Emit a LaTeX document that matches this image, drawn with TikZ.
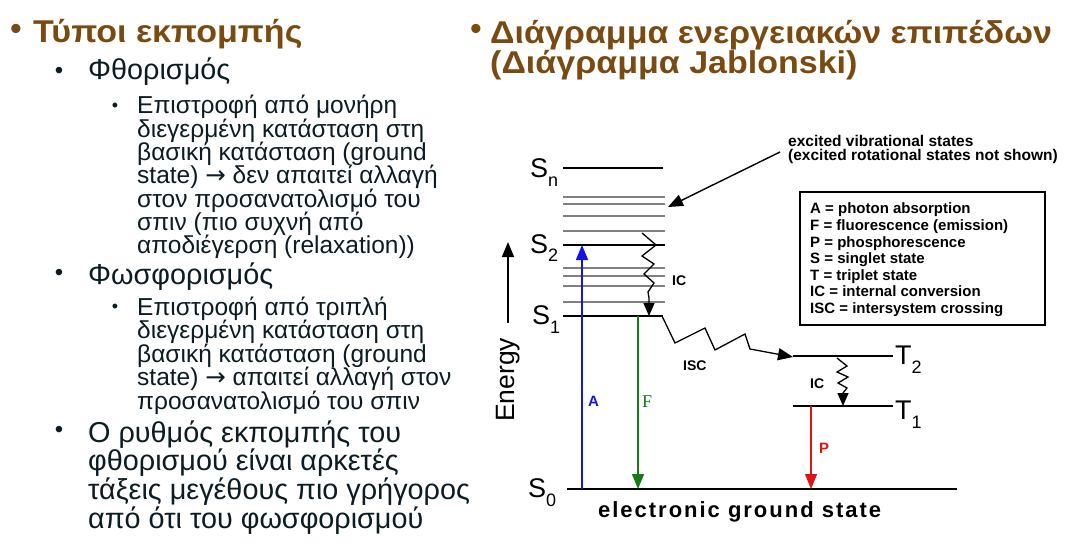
\documentclass[tikz,border=0pt]{standalone}
\usepackage{fontspec}
\setmainfont{Liberation Sans}
\newfontfamily\arrowfont{DejaVu Sans}
\newfontfamily\serifont{Liberation Serif}
\newfontfamily\wideBold{Liberation Sans}[LetterSpace=9]
\newfontfamily\titlefont{Liberation Sans}[FakeStretch=1.08]
\usetikzlibrary{arrows.meta}
\definecolor{titlebrown}{RGB}{122,74,16}
\definecolor{bodyText}{RGB}{12,28,34}
\definecolor{absblue}{RGB}{20,20,230}
\definecolor{flgreen}{RGB}{25,120,25}
\definecolor{phred}{RGB}{225,20,20}
\newcommand{\lev}[2]{#1\raisebox{-9pt}{\fontsize{18}{18}\selectfont #2}}
\newcommand{\toarrow}{{\arrowfont →}}
\newcommand{\block}[3]{\parbox[t]{600pt}{\fontsize{#1}{#2}\selectfont\lineskiplimit=-100pt #3}}
\tikzstyle{txt}=[inner sep = 0pt, anchor = base west]
\tikzstyle{headText}=[txt, text = titlebrown, font = \titlefont\bfseries]
\tikzstyle{levelTwo}=[txt, text = bodyText, font = \fontsize{28.8}{28.8}\selectfont]
\tikzstyle{levelThree}=[txt, text = bodyText]
\tikzstyle{bulletDot}=[inner sep = 0pt, anchor = center, text = bodyText]
\tikzstyle{stateLabel}=[txt, font = \fontsize{27}{27}\selectfont]
\tikzstyle{level}=[line width = 1.8pt]
\tikzstyle{vib}=[line width = 1.8pt, gray]
\tikzstyle{tip}=[-{Triangle[length = 15pt, width = 12pt]}]
\tikzstyle{smallTip}=[-{Triangle[length = 13pt, width = 11pt]}]

\begin{document}
\begin{tikzpicture}[x = 1pt, y = -1pt]
\useasboundingbox (0,0) rectangle (1092,548);
\tikzstyle{legendText}=[txt, font = \bfseries]
\tikzstyle{noteText}=[txt, font = \bfseries]
\node[bulletDot, text = titlebrown, font = \fontsize{32}{32}\selectfont\bfseries] (b0) at (16,32) {•};
\node[headText] (typoi) at (33,43) {\block{31.5}{26.5}{Τύποι εκπομπής}};
\node[bulletDot, font = \fontsize{24}{24}\selectfont] (b1) at (59,73) {•};
\node[levelTwo] (fthor) at (88,80) {Φθορισμός};
\node[bulletDot, font = \fontsize{18}{18}\selectfont] (b2) at (115,107) {•};
\node[levelThree] (fthorText) at (137,114) {\block{24.5}{23.3}{Επιστροφή από μονήρη\\διεγερμένη κατάσταση στη\\βασική κατάσταση (ground\\state) \toarrow{} δεν απαιτεί αλλαγή\\στον προσανατολισμό του\\σπιν (πιο συχνή από\\αποδιέγερση (relaxation))}};
\node[bulletDot, font = \fontsize{24}{24}\selectfont] (b3) at (59,275) {•};
\node[levelTwo] (fosf) at (88,284) {Φωσφορισμός};
\node[bulletDot, font = \fontsize{18}{18}\selectfont] (b4) at (115,308) {•};
\node[levelThree] (fosfText) at (137,315) {\block{24.5}{23.6}{Επιστροφή από τριπλή\\διεγερμένη κατάσταση στη\\βασική κατάσταση (ground\\state) \toarrow{} απαιτεί αλλαγή στον\\προσανατολισμό του σπιν}};
\node[bulletDot, font = \fontsize{24}{24}\selectfont] (b5) at (59,432) {•};
\node[levelThree] (rate) at (88,442) {\block{28.8}{28.9}{Ο ρυθμός εκπομπής του\\φθορισμού είναι αρκετές\\τάξεις μεγέθους πιο γρήγορος\\από ότι του φωσφορισμού}};
\node[bulletDot, text = titlebrown, font = \fontsize{32}{32}\selectfont\bfseries] (b6) at (476,32) {•};
\node[headText] (jabTitle) at (490,43.5) {\block{31.5}{30}{Διάγραμμα ενεργειακών επιπέδων\\(Διάγραμμα Jablonski)}};
\foreach \y in {197,204,216,231,268,276,286,302}
  \draw[vib] (563,\y) -- (665,\y);
\draw[level] (563,168) -- (663,168);
\draw[level] (563,245) -- (665,245);
\draw[level] (563,316) -- (663,316);
\draw[level] (567,489) -- (957,489);
\draw[level] (793,356) -- (893,356);
\draw[level] (793,406) -- (893,406);
\node[stateLabel] (sn) at (530,178) {\lev{S}{n}};
\node[stateLabel] (s2) at (530,253) {\lev{S}{2}};
\node[stateLabel] (s1) at (532,324) {\lev{S}{1}};
\node[stateLabel] (s0) at (528,497) {\lev{S}{0}};
\node[stateLabel] (t2) at (895,364) {\lev{T}{2}};
\node[stateLabel] (t1) at (895,419) {\lev{T}{1}};
\coordinate (eLow) at (508,323);
\coordinate (eHigh) at (508,242);
\draw[line width = 1.6pt, tip] (eLow) -- (eHigh);
\node[txt, rotate = 90, font = \fontsize{26.5}{26.5}\selectfont] (energy) at (514,422) {Energy};
\coordinate (aLow) at (582,489);
\coordinate (aHigh) at (582,245);
\draw[absblue, line width = 1.5pt, tip] (aLow) -- (aHigh);
\node[txt, text = absblue, font = \fontsize{15}{15}\selectfont\bfseries] (aLab) at (588,406) {A};
\coordinate (fHigh) at (638,316);
\coordinate (fLow) at (638,489);
\draw[flgreen, line width = 1.5pt, tip] (fHigh) -- (fLow);
\node[txt, text = flgreen, font = \fontsize{18}{18}\serifont] (fLab) at (642,407) {F};
\coordinate (pHigh) at (811,406);
\coordinate (pLow) at (811,489);
\draw[phred, line width = 1.5pt, tip] (pHigh) -- (pLow);
\node[txt, text = phred, font = \fontsize{15}{15}\selectfont\bfseries] (pLab) at (819,453) {P};
\coordinate (icTop) at (642,233);
\coordinate (icBot) at (649,316);
\draw[line width = 1.3pt, smallTip] (icTop) -- (656,245) -- (642,256) -- (654,264) -- (644,274) -- (654,283) -- (648,292) -- (649,298) -- (icBot);
\node[txt, font = \fontsize{14}{14}\selectfont\bfseries] (icLab) at (672,285) {IC};
\coordinate (iscStart) at (662,316);
\coordinate (iscEnd) at (793,357);
\draw[line width = 1.3pt, tip] (iscStart) -- (675,343) -- (705,328) -- (715,350) -- (745,334) -- (750,349) -- (iscEnd);
\node[txt, font = \fontsize{14}{14}\selectfont\bfseries] (iscLab) at (683,370) {ISC};
\coordinate (icTTop) at (837,358);
\coordinate (icTBot) at (843,406);
\draw[line width = 1.3pt, smallTip] (icTTop) -- (847,366) -- (837,372) -- (848,377) -- (838,383) -- (847,388) -- (843,393) -- (icTBot);
\node[txt, font = \fontsize{14}{14}\selectfont\bfseries] (icTLab) at (810,388) {IC};
\node[txt, font = \fontsize{22}{22}\wideBold\bfseries] (ground) at (598,517) {electronic ground state};
\node[noteText] (note) at (788,147) {\block{15.5}{14}{excited vibrational states\\(excited rotational states not shown)}};
\coordinate (noteFrom) at (780,152);
\coordinate (noteTo) at (668,207);
\draw[line width = 1.4pt, tip] (noteFrom) -- (noteTo);
\draw[line width = 2.2pt] (800,192) rectangle (1045,325);
\node[legendText] (legend) at (810,214) {\block{15}{16.6}{A = photon absorption\\F = fluorescence (emission)\\P = phosphorescence\\S = singlet state\\T = triplet state\\IC = internal conversion\\ISC = intersystem crossing}};
\end{tikzpicture}
\end{document}
